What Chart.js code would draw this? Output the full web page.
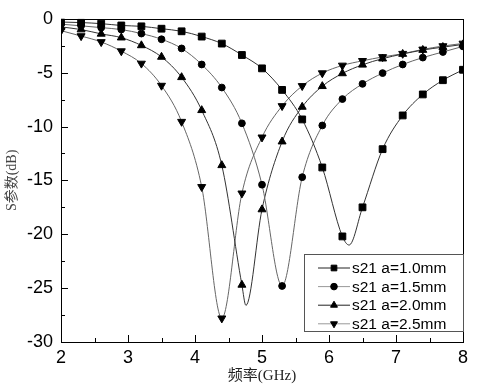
<!DOCTYPE html>
<html>
<head>
<meta charset="utf-8">
<script src="https://cdn.jsdelivr.net/npm/chart.js@4.4.1/dist/chart.umd.min.js"></script>
<style>
  body { margin: 0; background: #fff; }
</style>
</head>
<body>
<canvas id="myChart" width="500" height="386"></canvas>
<script>
// frequency points where markers sit (GHz)
var freq = [2.0, 2.3, 2.6, 2.9, 3.2, 3.5, 3.8, 4.1, 4.4, 4.7, 5.0,
            5.3, 5.6, 5.9, 6.2, 6.5, 6.8, 7.1, 7.4, 7.7, 8.0];

// S21 (dB) for each slot width a
var s21_10 = [-0.3, -0.35, -0.45, -0.62, -0.7, -0.92, -1.16, -1.65, -2.3, -3.36, -4.6,
              -6.6, -9.34, -13.8, -20.2, -17.5, -12.1, -8.97, -7.02, -5.7, -4.73];
var s21_15 = [-0.5, -0.65, -0.82, -1.0, -1.37, -1.9, -2.75, -4.24, -6.38, -9.7, -15.4,
              -24.8, -14.7, -9.9, -7.45, -6.04, -5.04, -4.24, -3.6, -3.08, -2.56];
var s21_20 = [-0.75, -1.0, -1.4, -1.75, -2.47, -3.54, -5.43, -8.49, -13.6, -24.7, -17.7,
              -11.4, -8.18, -6.26, -5.07, -4.27, -3.7, -3.27, -2.9, -2.63, -2.38];
var s21_25 = [-1.1, -1.6, -2.15, -3.0, -4.15, -6.2, -9.55, -15.6, -27.8, -16.2, -11.0,
              -8.09, -6.23, -5.04, -4.33, -3.9, -3.54, -3.24, -2.84, -2.53, -2.29];

// resonance bottoms that fall between markers (no marker drawn)
var dipFreq10 = [6.3],  dipVal10 = [-21.0];
var dipFreq20 = [4.76], dipVal20 = [-26.6];

var labels = ["s21 a=1.0mm", "s21 a=1.5mm", "s21 a=2.0mm", "s21 a=2.5mm"];
var xTicks = [2, 8, 1];
var yTicks = [-30, 0, 5];

function series(ys, dx, dy) {
  var pts = freq.map(function (x, i) { return { x: x, y: ys[i], mark: true }; });
  (dx || []).forEach(function (x, i) { pts.push({ x: x, y: dy[i], mark: false }); });
  pts.sort(function (a, b) { return a.x - b.x; });
  return pts;
}

function makeSet(label, pts, style, rot, r, lineColor) {
  return {
    label: label,
    data: pts,
    borderColor: lineColor,
    borderWidth: 1,
    backgroundColor: "#000",
    pointBackgroundColor: "#000",
    pointBorderColor: "#000",
    pointBorderWidth: 1,
    pointStyle: style,
    pointRotation: rot,
    pointRadius: function (c) { return c.raw && c.raw.mark ? r : 0; },
    cubicInterpolationMode: "monotone",
    fill: false
  };
}

var datasets = [
  makeSet(labels[0], series(s21_10, dipFreq10, dipVal10), "rect", 0, 4.8, "#333"),
  makeSet(labels[1], series(s21_15), "circle", 0, 3.4, "#666"),
  makeSet(labels[2], series(s21_20, dipFreq20, dipVal20), "triangle", 0, 4.6, "#333"),
  makeSet(labels[3], series(s21_25), "triangle", 180, 4.6, "#666")
];

// box frame, inward ticks and the legend inside the plot
var framePlugin = {
  id: "frame",
  afterDraw: function (chart) {
    var c = chart.ctx, a = chart.chartArea;
    var xs = chart.scales.x, ys = chart.scales.y;
    c.save();
    c.strokeStyle = "#000";
    c.lineWidth = 1;
    c.strokeRect(Math.round(a.left) + 0.5, Math.round(a.top) + 0.5,
                 Math.round(a.right - a.left), Math.round(a.bottom - a.top));
    c.beginPath();
    var v, p, len;
    for (v = xTicks[0]; v <= xTicks[1] + 1e-9; v += 0.5) {
      p = Math.round(xs.getPixelForValue(v)) + 0.5;
      len = Math.abs(v - Math.round(v)) < 1e-9 ? 7 : 4;
      c.moveTo(p, a.bottom);
      c.lineTo(p, a.bottom - len);
    }
    for (v = yTicks[0]; v <= yTicks[1] + 1e-9; v += 2.5) {
      p = Math.round(ys.getPixelForValue(v)) + 0.5;
      len = Math.abs(v / 5 - Math.round(v / 5)) < 1e-9 ? 7 : 4;
      c.moveTo(a.left, p);
      c.lineTo(a.left + len, p);
    }
    c.stroke();

    // legend
    var bx = 304.5, by = 254.5, bw = Math.round(a.right) - 304, bh = 77;
    c.fillStyle = "#fff";
    c.fillRect(bx, by, bw, bh);
    c.strokeStyle = "#555";
    c.strokeRect(bx, by, bw, bh);
    c.font = "15.5px 'Liberation Sans', Arial, sans-serif";
    c.textBaseline = "middle";
    chart.data.datasets.forEach(function (ds, i) {
      var yy = 268 + i * 18.6;
      c.strokeStyle = i % 2 ? "#999" : "#222";
      c.lineWidth = 1;
      c.beginPath();
      c.moveTo(318, yy);
      c.lineTo(350, yy);
      c.stroke();
      c.fillStyle = "#000";
      c.strokeStyle = "#000";
      Chart.helpers.drawPoint(c, {
        pointStyle: ds.pointStyle,
        rotation: ds.pointRotation,
        radius: ds.pointStyle === "circle" ? 3.3 : 4,
        borderWidth: 1
      }, 334, yy);
      c.fillStyle = "#000";
      c.fillText(ds.label, 352, yy + 1);
    });
    c.restore();
  }
};

var options = {
  responsive: false,
  animation: false,
  layout: { padding: { top: 14, right: 37, left: 0, bottom: 0 } },
  plugins: {
    legend: { display: false },
    tooltip: { enabled: false }
  },
  scales: {
    x: {
      type: "linear",
      min: xTicks[0],
      max: xTicks[1],
      ticks: {
        stepSize: xTicks[2],
        color: "#000",
        padding: 5,
        maxRotation: 0,
        font: { family: "'Liberation Sans', Arial, sans-serif", size: 18 }
      },
      grid: { display: false, drawTicks: false },
      border: { display: false },
      title: {
        display: true,
        text: "频率(GHz)",
        color: "#222",
        padding: { top: 0, bottom: 1 },
        font: { family: "'Liberation Serif', 'Noto Sans CJK SC', serif", size: 15 }
      },
      afterFit: function (s) { s.height = 44; }
    },
    y: {
      type: "linear",
      min: yTicks[0],
      max: yTicks[1],
      ticks: {
        stepSize: yTicks[2],
        color: "#000",
        padding: 8,
        font: { family: "'Liberation Sans', Arial, sans-serif", size: 18 }
      },
      grid: { display: false, drawTicks: false },
      border: { display: false },
      title: {
        display: true,
        text: "S参数(dB)",
        color: "#444",
        padding: { top: 4, bottom: 0 },
        font: { family: "'Liberation Serif', 'Noto Sans CJK SC', serif", size: 14 }
      },
      afterFit: function (s) { s.width = 61; }
    }
  }
};

var ctx = document.getElementById("myChart");
var myChart = new Chart(ctx, {
  type: "line",
  data: { datasets: datasets },
  options: options,
  plugins: [framePlugin]
});
</script>
</body>
</html>
